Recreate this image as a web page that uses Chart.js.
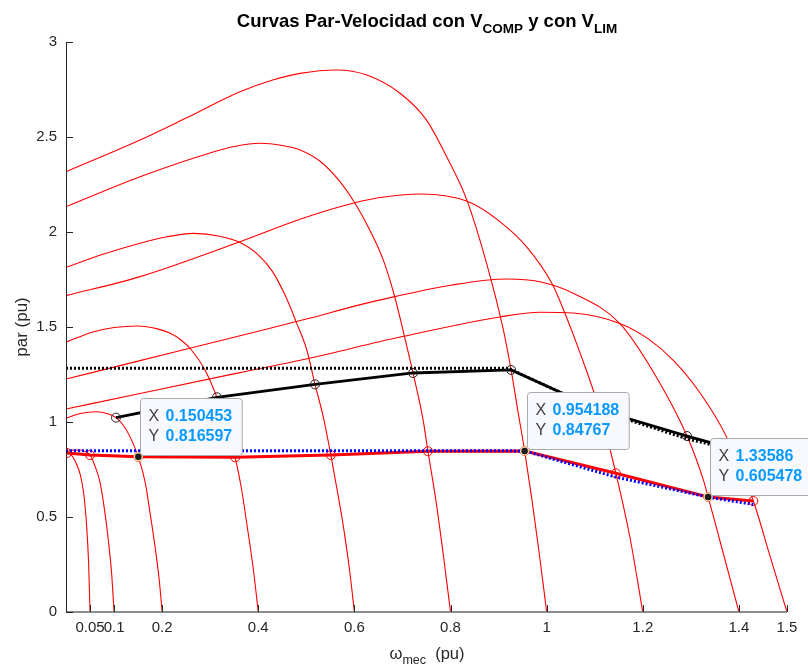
<!DOCTYPE html>
<html><head><meta charset="utf-8">
<script src="https://cdn.jsdelivr.net/npm/chart.js@4.4.1/dist/chart.umd.min.js"></script>
<style>html,body{margin:0;padding:0;background:#fff;}#wrap{width:808px;height:667px;}</style>
</head><body><div id="wrap"><canvas id="c" width="808" height="667"></canvas></div>
<script>
// ---- tick labels ----
const xTickValues = [0.05, 0.1, 0.2, 0.4, 0.6, 0.8, 1, 1.2, 1.4, 1.5];
const xTickLabels = ['0.05', '0.1', '0.2', '0.4', '0.6', '0.8', '1', '1.2', '1.4', '1.5'];
const yTickValues = [0, 0.5, 1, 1.5, 2, 2.5, 3];
const yTickLabels = ['0', '0.5', '1', '1.5', '2', '2.5', '3'];

// ---- torque-speed curves (sync speed in name) ----
const c005X = [0, 0.01, 0.02, 0.03, 0.037, 0.043, 0.047, 0.05];
const c005Y = [0.845, 0.83, 0.79, 0.72, 0.62, 0.45, 0.26, 0];
const c01X = [0, 0.015, 0.029, 0.04, 0.05, 0.06, 0.071, 0.08, 0.088, 0.095, 0.1];
const c01Y = [0.845, 0.852, 0.853, 0.845, 0.826, 0.77, 0.68, 0.54, 0.38, 0.2, 0];
const c02X = [0, 0.03, 0.064, 0.085, 0.104, 0.12, 0.133, 0.150453, 0.165, 0.175, 0.186, 0.194, 0.2];
const c02Y = [1.02, 1.045, 1.054, 1.045, 1.023, 0.98, 0.923, 0.816597, 0.68, 0.519, 0.33, 0.168, 0];
const c04X = [0, 0.056, 0.1, 0.148, 0.19, 0.216, 0.24, 0.261, 0.29, 0.314, 0.335, 0.352, 0.365, 0.376, 0.39, 0.4];
const c04Y = [1.42, 1.474, 1.497, 1.505, 1.49, 1.468, 1.43, 1.379, 1.27, 1.13, 0.98, 0.814, 0.65, 0.467, 0.22, 0];
const c06X = [0, 0.08, 0.154, 0.21, 0.265, 0.32, 0.362, 0.4, 0.43, 0.459, 0.48, 0.501, 0.518, 0.535, 0.551, 0.565, 0.576, 0.59, 0.6];
const c06Y = [1.814, 1.885, 1.941, 1.975, 1.993, 1.978, 1.945, 1.88, 1.79, 1.65, 1.519, 1.379, 1.198, 1.03, 0.826, 0.63, 0.468, 0.22, 0];
const c08X = [0, 0.154, 0.293, 0.35, 0.404, 0.45, 0.487, 0.53, 0.57, 0.601, 0.63, 0.66, 0.684, 0.701, 0.722, 0.743, 0.753, 0.77, 0.785, 0.8];
const c08Y = [2.133, 2.291, 2.411, 2.45, 2.467, 2.455, 2.432, 2.37, 2.265, 2.153, 2.02, 1.853, 1.658, 1.484, 1.258, 1.01, 0.846, 0.58, 0.3, 0];
const c10X = [0, 0.154, 0.25, 0.362, 0.43, 0.487, 0.563, 0.626, 0.695, 0.75, 0.792, 0.834, 0.875, 0.91, 0.926, 0.94, 0.954188, 0.97, 0.985, 1.0];
const c10Y = [2.317, 2.484, 2.6, 2.738, 2.8, 2.835, 2.853, 2.826, 2.73, 2.589, 2.396, 2.168, 1.835, 1.484, 1.274, 1.06, 0.84767, 0.58, 0.3, 0];
const c12X = [0, 0.154, 0.362, 0.487, 0.57, 0.65, 0.74, 0.836, 0.9, 0.958, 1.013, 1.038, 1.07, 1.11, 1.144, 1.173, 1.2];
const c12Y = [1.665, 1.765, 1.949, 2.067, 2.133, 2.18, 2.2, 2.16, 2.06, 1.923, 1.72, 1.572, 1.36, 1.063, 0.73, 0.396, 0];
const c14X = [0, 0.154, 0.362, 0.508, 0.6, 0.684, 0.8, 0.917, 0.986, 1.055, 1.152, 1.225, 1.292, 1.326, 1.33586, 1.36, 1.4];
const c14Y = [1.226, 1.323, 1.454, 1.547, 1.61, 1.66, 1.72, 1.753, 1.738, 1.678, 1.519, 1.25, 0.926, 0.695, 0.605478, 0.379, 0];
const c15X = [0, 0.154, 0.362, 0.508, 0.695, 0.903, 0.986, 1.055, 1.152, 1.21, 1.263, 1.32, 1.374, 1.43, 1.465, 1.5];
const c15Y = [1.068, 1.15, 1.26, 1.337, 1.447, 1.553, 1.578, 1.574, 1.519, 1.44, 1.326, 1.15, 0.923, 0.584, 0.291, 0];

// ---- operating-point lines ----
const redOpX = [0.002, 0.05, 0.150453, 0.352, 0.551, 0.753, 0.954188, 1.144, 1.33586, 1.43];
const redOpY = [0.837, 0.826, 0.816597, 0.814, 0.826, 0.846, 0.84767, 0.73, 0.605478, 0.584];
const blueLimX = [0, 0.954188, 1.144, 1.33586, 1.43];
const blueLimY = [0.849, 0.848, 0.71, 0.605, 0.566];
const blackOpX = [0.104, 0.314, 0.518, 0.722, 0.926, 1.11, 1.292, 1.43];
const blackOpY = [1.023, 1.13, 1.198, 1.258, 1.274, 1.063, 0.926, 0.83];
const blackLimX = [0, 0.92, 1.11, 1.292, 1.43];
const blackLimY = [1.283, 1.283, 1.06, 0.912, 0.826];

// ---- data tips ----
const tipX = [0.150453, 0.954188, 1.33586];
const tipY = [0.816597, 0.84767, 0.605478];

const FONT = "'Liberation Sans', Arial, Helvetica, sans-serif";
const pts = (xs, ys) => xs.map((x, i) => ({x: x, y: ys[i]}));

const curves = [[c005X,c005Y],[c01X,c01Y],[c02X,c02Y],[c04X,c04Y],[c06X,c06Y],[c08X,c08Y],[c10X,c10Y],[c12X,c12Y],[c14X,c14Y],[c15X,c15Y]];
const datasets = [];
curves.forEach(c => datasets.push({
  data: pts(c[0], c[1]), borderColor: '#ff0000', borderWidth: 1.1,
  pointRadius: 0, cubicInterpolationMode: 'monotone', fill: false
}));
datasets.push({data: pts(blackLimX, blackLimY), borderColor: '#000', borderWidth: 3, borderDash: [2, 2], pointRadius: 0, tension: 0});
datasets.push({data: pts(blackOpX, blackOpY), borderColor: '#000', borderWidth: 2.8, tension: 0,
  pointRadius: 4.5, pointBorderWidth: 1, pointBorderColor: '#222', pointBackgroundColor: 'rgba(0,0,0,0)'});
datasets.push({data: pts(redOpX, redOpY), borderColor: '#ff0000', borderWidth: 3, tension: 0,
  pointRadius: 4.5, pointBorderWidth: 1, pointBorderColor: '#ff0000', pointBackgroundColor: 'rgba(0,0,0,0)'});
datasets.push({data: pts(blueLimX, blueLimY), borderColor: '#0000ff', borderWidth: 3, borderDash: [2, 2], pointRadius: 0, tension: 0});
datasets.push({data: pts(tipX, tipY), showLine: false, pointRadius: 4, pointBorderWidth: 1.5,
  pointBorderColor: '#f3d6a6', pointBackgroundColor: '#1c1c1c'});
datasets.forEach((d, i) => { d.order = 100 - i; });

function drawRich(ctx, parts, cx, baseline, color) {
  let total = 0;
  parts.forEach(p => { ctx.font = (p.bold ? 'bold ' : '') + p.size + 'px ' + FONT; p.w = ctx.measureText(p.t).width; total += p.w; });
  let x = cx - total / 2;
  ctx.textAlign = 'left'; ctx.textBaseline = 'alphabetic'; ctx.fillStyle = color;
  parts.forEach(p => { ctx.font = (p.bold ? 'bold ' : '') + p.size + 'px ' + FONT; ctx.fillText(p.t, x, baseline + (p.dy || 0)); x += p.w; });
}

const decor = {
  id: 'decor',
  afterDatasetsDraw(chart) {
    const ctx = chart.ctx, xs = chart.scales.x, ys = chart.scales.y, a = chart.chartArea;
    ctx.save();
    // axes
    ctx.strokeStyle = '#8c8c8c'; ctx.lineWidth = 2;
    ctx.beginPath(); ctx.moveTo(a.left, a.bottom); ctx.lineTo(a.right, a.bottom); ctx.stroke();
    ctx.strokeStyle = '#262626'; ctx.lineWidth = 1;
    ctx.beginPath(); ctx.moveTo(a.left + 0.5, a.top); ctx.lineTo(a.left + 0.5, a.bottom); ctx.stroke();
    xTickValues.forEach(v => { const p = Math.round(xs.getPixelForValue(v)) + 0.5; ctx.beginPath(); ctx.moveTo(p, a.bottom); ctx.lineTo(p, a.bottom - 7); ctx.stroke(); });
    yTickValues.forEach(v => { const p = Math.round(ys.getPixelForValue(v)) + 0.5; ctx.beginPath(); ctx.moveTo(a.left, p); ctx.lineTo(a.left + 7, p); ctx.stroke(); });
    // data tips
    tipX.forEach((tx, i) => {
      const px = xs.getPixelForValue(tx), py = ys.getPixelForValue(tipY[i]);
      const vx = String(tx), vy = String(tipY[i]);
      ctx.font = 'bold 16px ' + FONT;
      const w = 25 + Math.max(ctx.measureText(vx).width, ctx.measureText(vy).width) + 10;
      const bx = Math.round(px + 2) + 0.5, by = Math.round(py - 59) + 0.5, h = 57;
      ctx.beginPath();
      if (ctx.roundRect) ctx.roundRect(bx, by, w, h, 3); else ctx.rect(bx, by, w, h);
      ctx.fillStyle = '#f8f9fe'; ctx.fill();
      ctx.strokeStyle = '#a9a9a9'; ctx.lineWidth = 1; ctx.stroke();
      ctx.textBaseline = 'middle'; ctx.textAlign = 'left';
      ctx.font = '16px ' + FONT; ctx.fillStyle = '#404040';
      ctx.fillText('X', bx + 8, by + 18.5); ctx.fillText('Y', bx + 8, by + 38.5);
      ctx.font = 'bold 16px ' + FONT; ctx.fillStyle = '#0a99ff';
      ctx.fillText(vx, bx + 25, by + 18.5); ctx.fillText(vy, bx + 25, by + 38.5);
    });
    // title
    drawRich(ctx, [
      {t: 'Curvas Par-Velocidad con V', size: 18.5, bold: true},
      {t: 'COMP', size: 13.5, bold: true, dy: 6},
      {t: ' y con V', size: 18.5, bold: true},
      {t: 'LIM', size: 13.5, bold: true, dy: 6}
    ], 427, 27, '#000');
    // x label
    drawRich(ctx, [
      {t: '\u03c9', size: 16.5},
      {t: 'mec', size: 12.5, dy: 5},
      {t: '  (pu)', size: 16.5}
    ], 427, 659, '#262626');
    // y label
    ctx.translate(22, (a.top + a.bottom) / 2); ctx.rotate(-Math.PI / 2);
    ctx.font = '17px ' + FONT; ctx.fillStyle = '#262626'; ctx.textAlign = 'center'; ctx.textBaseline = 'middle';
    ctx.fillText('par (pu)', 0, 0);
    ctx.restore();
  }
};

new Chart(document.getElementById('c'), {
  type: 'line',
  data: {datasets: datasets},
  options: {
    responsive: false, animation: false, events: [],
    layout: {padding: {left: 0, right: 21, top: 42, bottom: 0}},
    plugins: {legend: {display: false}, tooltip: {enabled: false}, title: {display: false}},
    scales: {
      x: {
        type: 'linear', min: 0, max: 1.5,
        afterBuildTicks: s => { s.ticks = xTickValues.map(v => ({value: v})); },
        afterFit: s => { s.height = 55; },
        grid: {display: false, drawTicks: false}, border: {display: false},
        ticks: {autoSkip: false, maxRotation: 0, padding: 7, color: '#262626', font: {family: FONT, size: 15},
          callback: (v) => { const i = xTickValues.indexOf(v); return i >= 0 ? xTickLabels[i] : ''; }}
      },
      y: {
        type: 'linear', min: 0, max: 3,
        afterBuildTicks: s => { s.ticks = yTickValues.map(v => ({value: v})); },
        afterFit: s => { s.width = 66; },
        grid: {display: false, drawTicks: false}, border: {display: false},
        ticks: {padding: 9, color: '#262626', font: {family: FONT, size: 15},
          callback: (v) => { const i = yTickValues.indexOf(v); return i >= 0 ? yTickLabels[i] : ''; }}
      }
    }
  },
  plugins: [decor]
});
</script></body></html>
